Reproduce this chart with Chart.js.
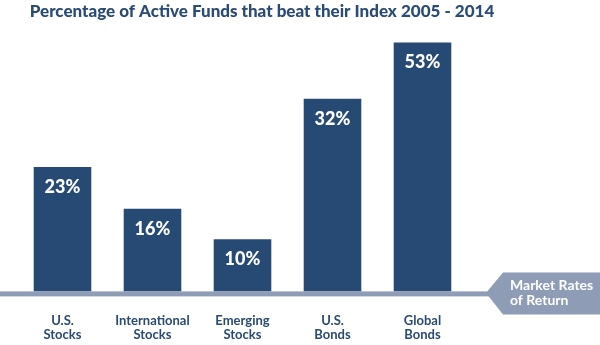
<!DOCTYPE html>
<html>
<head>
<meta charset="utf-8">
<script src="https://cdn.jsdelivr.net/npm/chart.js@4"></script>
<style>
  html, body { margin: 0; padding: 0; background: #fff; }
  #wrap { width: 600px; height: 345px; }
</style>
</head>
<body>
<div id="wrap"><canvas id="chart"></canvas></div>
<script>
var CATEGORIES = [
  ['U.S.', 'Stocks'], ['International', 'Stocks'], ['Emerging', 'Stocks'],
  ['U.S.', 'Bonds'], ['Global', 'Bonds']
];
var PERCENT_LABELS = ['23%', '16%', '10%', '32%', '53%'];
// the graphic is not drawn to scale, so drawn bar heights are read off separately
var BAR_HEIGHTS = [26.5, 17.6, 11.1, 41.0, 53];
var TITLE = 'Percentage of Active Funds that beat their Index 2005 - 2014';
var MARKER_LINES = ['Market Rates', 'of Return'];

var NAVY = '#264a74';
var GREY = '#8e9cb6';
var FONT = 'Lato, "Open Sans", sans-serif';

/** Baseline rule, "Market Rates" arrow tag, bar values and the title. */
var decorPlugin = {
  id: 'decor',
  beforeDatasetsDraw: function (chart) {
    var ctx = chart.ctx;
    var y0 = chart.scales.y.getPixelForValue(0);
    ctx.save();
    ctx.fillStyle = GREY;
    ctx.fillRect(0, y0, 492, 5);
    // arrow tag pointing left
    ctx.beginPath();
    ctx.moveTo(486, y0 + 1.5);
    ctx.lineTo(503, y0 - 19);
    ctx.lineTo(600, y0 - 19);
    ctx.lineTo(600, y0 + 23);
    ctx.lineTo(503, y0 + 23);
    ctx.closePath();
    ctx.fill();
    ctx.fillStyle = '#fff';
    ctx.font = '700 14px ' + FONT;
    ctx.textAlign = 'left';
    ctx.textBaseline = 'middle';
    ctx.fillText(MARKER_LINES[0], 510, y0 - 6);
    ctx.fillText(MARKER_LINES[1], 510, y0 + 9.5);
    ctx.restore();
  },
  afterDatasetsDraw: function (chart) {
    var ctx = chart.ctx;
    var meta = chart.getDatasetMeta(0);
    ctx.save();
    ctx.fillStyle = '#fff';
    ctx.font = '900 18px ' + FONT;
    ctx.textAlign = 'center';
    ctx.textBaseline = 'middle';
    meta.data.forEach(function (bar, i) {
      ctx.fillText(PERCENT_LABELS[i], bar.x, bar.y + 20);
    });
    ctx.fillStyle = '#2a4b74';
    ctx.font = '900 17px ' + FONT;
    ctx.textBaseline = 'alphabetic';
    ctx.fillText(TITLE, 262, 17);
    ctx.restore();
  }
};

new Chart(document.getElementById('chart').getContext('2d'), {
  type: 'bar',
  data: {
    labels: CATEGORIES,
    datasets: [{
      data: BAR_HEIGHTS,
      backgroundColor: NAVY,
      borderWidth: 0,
      categoryPercentage: 1,
      barPercentage: 0.64
    }]
  },
  options: {
    responsive: true,
    maintainAspectRatio: false,
    animation: false,
    layout: { padding: { top: 33, left: 17.5, right: 132.5, bottom: -19 } },
    plugins: { legend: { display: false }, tooltip: { enabled: false }, title: { display: false } },
    scales: {
      x: {
        grid: { display: false, drawTicks: false },
        border: { display: false },
        ticks: {
          padding: 22,
          maxRotation: 0,
          autoSkip: false,
          color: '#2b4a72',
          font: { family: FONT, size: 13, weight: '700', lineHeight: 1.1 }
        }
      },
      y: { display: false, min: 0, max: 55 }
    }
  },
  plugins: [decorPlugin]
});
</script>
</body>
</html>
